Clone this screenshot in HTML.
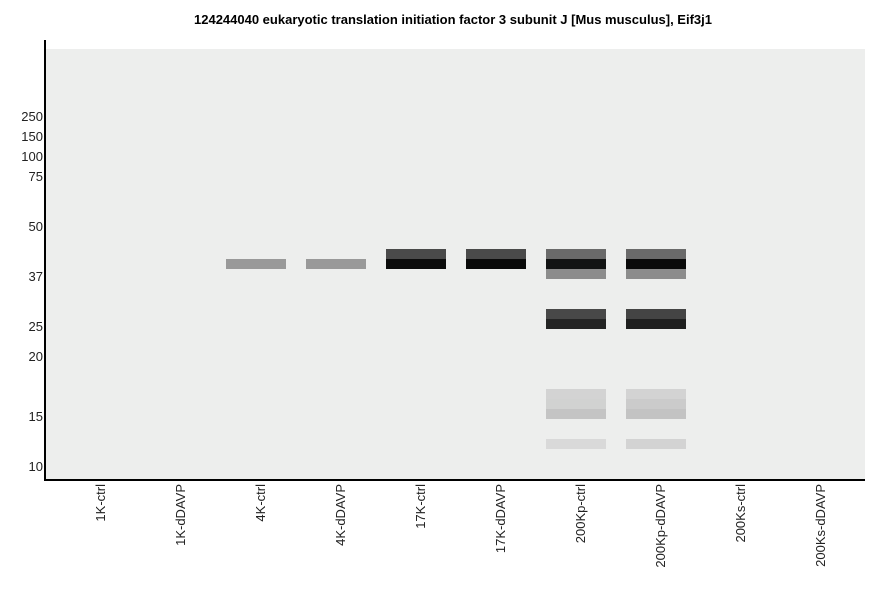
<!DOCTYPE html>
<html><head><style>
body{margin:0;width:886px;height:595px;background:#fff;position:relative;font-family:"Liberation Sans",sans-serif;overflow:hidden}
.t{position:absolute;top:12px;left:0;width:906px;text-align:center;font-weight:bold;font-size:13px}
.plot{position:absolute;left:46px;top:49px;width:819px;height:430px;background:#edeeed}
.vax{position:absolute;left:44px;top:40px;width:2px;height:441px;background:#000}
.hax{position:absolute;left:44px;top:479px;width:821px;height:2px;background:#000}
.y{position:absolute;right:843px;font-size:13px;color:#222;line-height:14px}
.b{position:absolute;width:60px;height:10px}
.l{position:absolute;top:484px;font-size:13px;color:#222;writing-mode:vertical-rl;transform:rotate(180deg);line-height:14px;white-space:nowrap}
</style></head><body>
<div class="t">124244040 eukaryotic translation initiation factor 3 subunit J [Mus musculus], Eif3j1</div>
<div class="plot"></div><div class="vax"></div><div class="hax"></div>
<div class="y" style="top:110px">250</div>
<div class="y" style="top:130px">150</div>
<div class="y" style="top:150px">100</div>
<div class="y" style="top:170px">75</div>
<div class="y" style="top:220px">50</div>
<div class="y" style="top:270px">37</div>
<div class="y" style="top:320px">25</div>
<div class="y" style="top:350px">20</div>
<div class="y" style="top:410px">15</div>
<div class="y" style="top:460px">10</div>

<div class="b" style="left:226px;top:259px;background:#999"></div>
<div class="b" style="left:306px;top:259px;background:#999"></div>
<div class="b" style="left:386px;top:249px;background:#4a4a4a"></div>
<div class="b" style="left:386px;top:259px;background:#0c0c0c"></div>
<div class="b" style="left:466px;top:249px;background:#4a4a4a"></div>
<div class="b" style="left:466px;top:259px;background:#0a0a0a"></div>

<div class="b" style="left:546px;top:249px;background:#6a6a6a"></div>
<div class="b" style="left:546px;top:259px;background:#121313"></div>
<div class="b" style="left:546px;top:269px;background:#8c8c8c"></div>
<div class="b" style="left:546px;top:309px;background:#484848"></div>
<div class="b" style="left:546px;top:319px;background:#242424"></div>
<div class="b" style="left:546px;top:389px;background:#d3d3d3"></div>
<div class="b" style="left:546px;top:399px;background:#d1d2d1"></div>
<div class="b" style="left:546px;top:409px;background:#c4c4c4"></div>
<div class="b" style="left:546px;top:439px;background:#d9d9d9"></div>

<div class="b" style="left:626px;top:249px;background:#6a6a6a"></div>
<div class="b" style="left:626px;top:259px;background:#0a0a0a"></div>
<div class="b" style="left:626px;top:269px;background:#8c8c8c"></div>
<div class="b" style="left:626px;top:309px;background:#444"></div>
<div class="b" style="left:626px;top:319px;background:#1f1f1f"></div>
<div class="b" style="left:626px;top:389px;background:#d3d3d3"></div>
<div class="b" style="left:626px;top:399px;background:#cbcbcb"></div>
<div class="b" style="left:626px;top:409px;background:#c3c3c3"></div>
<div class="b" style="left:626px;top:439px;background:#d3d3d3"></div>

<div class="l" style="left:94px">1K-ctrl</div>
<div class="l" style="left:174px">1K-dDAVP</div>
<div class="l" style="left:254px">4K-ctrl</div>
<div class="l" style="left:334px">4K-dDAVP</div>
<div class="l" style="left:414px">17K-ctrl</div>
<div class="l" style="left:494px">17K-dDAVP</div>
<div class="l" style="left:574px">200Kp-ctrl</div>
<div class="l" style="left:654px">200Kp-dDAVP</div>
<div class="l" style="left:734px">200Ks-ctrl</div>
<div class="l" style="left:814px">200Ks-dDAVP</div>
</body></html>
